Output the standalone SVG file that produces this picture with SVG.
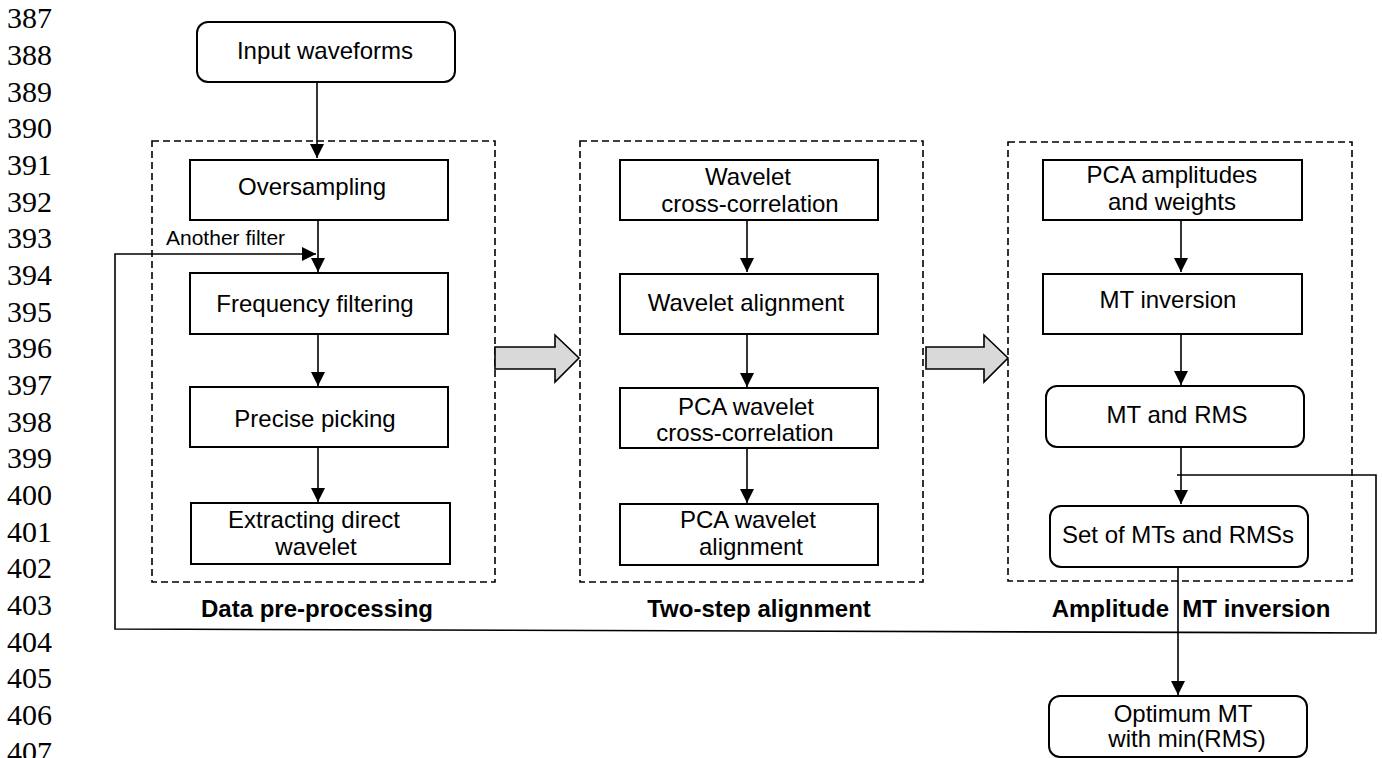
<svg xmlns="http://www.w3.org/2000/svg" width="1382" height="758" viewBox="0 0 1382 758">
<style>
.ln{font-family:"Liberation Serif","Times New Roman",serif;font-size:30px;fill:#000}
.t{font-family:"Liberation Sans",Arial,sans-serif;font-size:24px;fill:#000;text-anchor:middle}
.ti{font-family:"Liberation Sans",Arial,sans-serif;font-size:24px;font-weight:bold;fill:#000;text-anchor:middle}
.sm{font-family:"Liberation Sans",Arial,sans-serif;font-size:21px;fill:#000}
.box{fill:#fff;stroke:#000;stroke-width:2}
.dash{fill:none;stroke:#000;stroke-width:1.6;stroke-dasharray:7 4}
.c{fill:none;stroke:#000;stroke-width:1.6}
.blk{fill:#d9d9d9;stroke:#000;stroke-width:1.6}
</style>
<defs>
<marker id="ah" markerUnits="userSpaceOnUse" markerWidth="16" markerHeight="16" refX="14" refY="7" orient="auto">
<path d="M0,0 L14,7 L0,14 z" fill="#000"/>
</marker>
</defs>
<g id="line-numbers">
<text class="ln" x="7" y="28">387</text>
<text class="ln" x="7" y="65">388</text>
<text class="ln" x="7" y="102">389</text>
<text class="ln" x="7" y="138">390</text>
<text class="ln" x="7" y="175">391</text>
<text class="ln" x="7" y="212">392</text>
<text class="ln" x="7" y="248">393</text>
<text class="ln" x="7" y="285">394</text>
<text class="ln" x="7" y="322">395</text>
<text class="ln" x="7" y="358">396</text>
<text class="ln" x="7" y="395">397</text>
<text class="ln" x="7" y="432">398</text>
<text class="ln" x="7" y="468">399</text>
<text class="ln" x="7" y="505">400</text>
<text class="ln" x="7" y="542">401</text>
<text class="ln" x="7" y="578">402</text>
<text class="ln" x="7" y="615">403</text>
<text class="ln" x="7" y="652">404</text>
<text class="ln" x="7" y="688">405</text>
<text class="ln" x="7" y="725">406</text>
<text class="ln" x="7" y="762">407</text>
</g>
<g id="groups">
<rect id="grp-preprocessing" class="dash" x="152" y="141" width="343" height="441"/>
<rect id="grp-alignment" class="dash" x="580" y="141" width="343" height="441"/>
<rect id="grp-inversion" class="dash" x="1008" y="142" width="344" height="439"/>
<text class="ti" x="317" y="617">Data pre-processing</text>
<text class="ti" x="759" y="617">Two-step alignment</text>
<text class="ti" x="1191" y="617" xml:space="preserve">Amplitude  MT inversion</text>
</g>
<g id="connectors">
<line class="c" x1="317" y1="82" x2="317" y2="158" marker-end="url(#ah)"/>
<line class="c" x1="318" y1="220" x2="318" y2="272" marker-end="url(#ah)"/>
<line class="c" x1="318" y1="334" x2="318" y2="386" marker-end="url(#ah)"/>
<line class="c" x1="318" y1="447" x2="318" y2="502" marker-end="url(#ah)"/>
<line class="c" x1="747" y1="220" x2="747" y2="272" marker-end="url(#ah)"/>
<line class="c" x1="747" y1="334" x2="747" y2="387" marker-end="url(#ah)"/>
<line class="c" x1="747" y1="448" x2="747" y2="503" marker-end="url(#ah)"/>
<line class="c" x1="1181" y1="220" x2="1181" y2="272" marker-end="url(#ah)"/>
<line class="c" x1="1181" y1="334" x2="1181" y2="385" marker-end="url(#ah)"/>
<line class="c" x1="1181" y1="447" x2="1181" y2="504" marker-end="url(#ah)"/>
<line class="c" x1="1178" y1="567" x2="1178" y2="695" marker-end="url(#ah)"/>
<path class="c" d="M1177,475 H1376 V633 L115,629 V254 H316" marker-end="url(#ah)"/>
<text class="sm" x="166" y="245">Another filter</text>
<polygon class="blk" points="495,347 555,347 555,335 579,358 555,382 555,369 495,369"/>
<polygon class="blk" points="926,347 984,347 984,335 1008,358 984,382 984,369 926,369"/>
</g>
<g id="n-input"><rect class="box" x="197" y="22" width="258" height="60" rx="11"/><text class="t" x="325" y="59">Input waveforms</text></g>
<g id="n-oversampling"><rect class="box" x="190" y="160" width="258" height="60"/><text class="t" x="312" y="195">Oversampling</text></g>
<g id="n-frequency"><rect class="box" x="190" y="273" width="258" height="61"/><text class="t" x="315" y="312">Frequency filtering</text></g>
<g id="n-picking"><rect class="box" x="190" y="387" width="258" height="60"/><text class="t" x="315" y="427">Precise picking</text></g>
<g id="n-extracting"><rect class="box" x="191" y="503" width="259" height="61"/><text class="t" x="314" y="528">Extracting direct</text><text class="t" x="316" y="555">wavelet</text></g>
<g id="n-wcc"><rect class="box" x="620" y="160" width="258" height="60"/><text class="t" x="748" y="185">Wavelet</text><text class="t" x="750" y="212">cross-correlation</text></g>
<g id="n-walign"><rect class="box" x="620" y="274" width="258" height="60"/><text class="t" x="746" y="311">Wavelet alignment</text></g>
<g id="n-pcawcc"><rect class="box" x="620" y="388" width="258" height="60"/><text class="t" x="746" y="415">PCA wavelet</text><text class="t" x="745" y="441">cross-correlation</text></g>
<g id="n-pcawalign"><rect class="box" x="620" y="504" width="258" height="61"/><text class="t" x="748" y="528">PCA wavelet</text><text class="t" x="751" y="555">alignment</text></g>
<g id="n-pcaamp"><rect class="box" x="1043" y="160" width="259" height="60"/><text class="t" x="1172" y="183">PCA amplitudes</text><text class="t" x="1172" y="210">and weights</text></g>
<g id="n-mtinv"><rect class="box" x="1043" y="274" width="259" height="60"/><text class="t" x="1168" y="308">MT inversion</text></g>
<g id="n-mtrms"><rect class="box" x="1046" y="386" width="258" height="61" rx="11"/><text class="t" x="1177" y="423">MT and RMS</text></g>
<g id="n-set"><rect class="box" x="1050" y="506" width="258" height="61" rx="11"/><text class="t" x="1178" y="543">Set of MTs and RMSs</text></g>
<g id="n-optimum"><rect class="box" x="1049" y="696" width="258" height="61" rx="11"/><text class="t" x="1183" y="722">Optimum MT</text><text class="t" x="1187" y="747">with min(RMS)</text></g>
</svg>
